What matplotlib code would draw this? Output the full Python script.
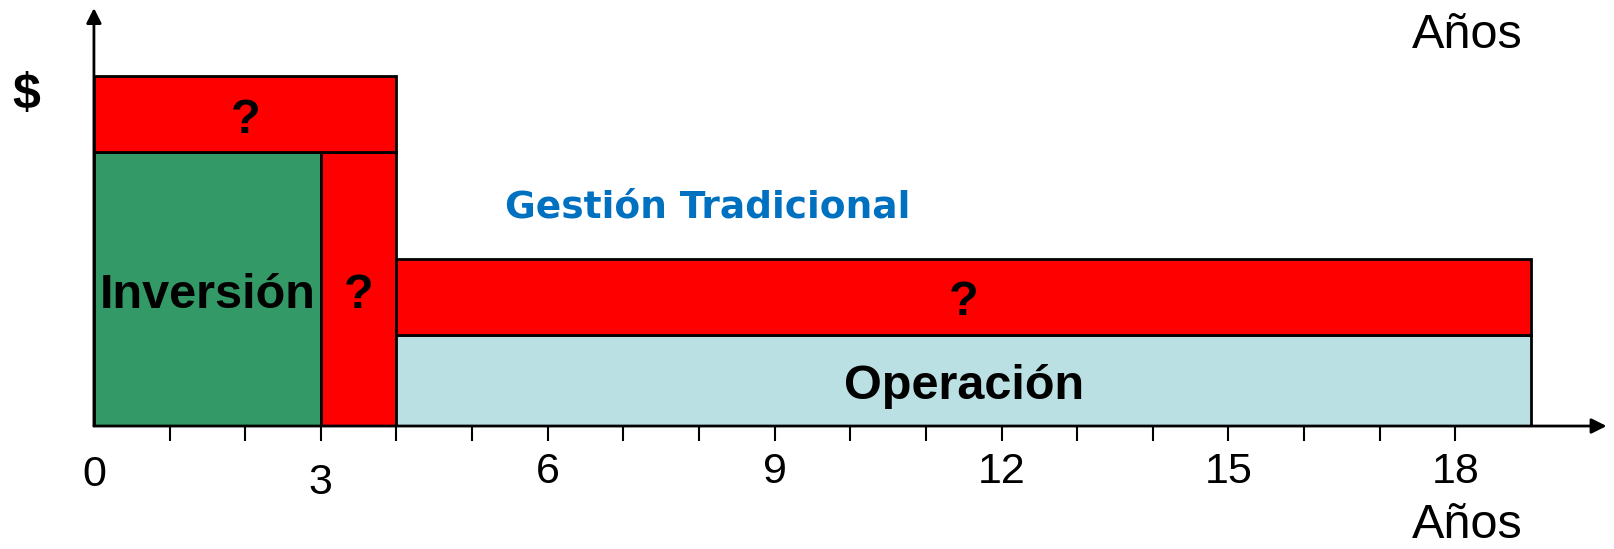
import matplotlib
matplotlib.use('Agg')
import matplotlib.pyplot as plt

# blocks of the cost chart (years on x, $ on y)
block_labels = ['Inversión', '?', '?', 'Operación', '?']
block_start = [0, 3, 0, 4, 4]
block_end = [3, 4, 4, 19, 19]
block_base = [0, 0, 3.6, 0, 1.2]
block_height = [3.6, 3.6, 1.0, 1.2, 1.0]
block_colors = ['#339966', '#ff0000', '#ff0000', '#bbe0e3', '#ff0000']

tick_years = [0, 3, 6, 9, 12, 15, 18]
minor_years = list(range(1, 19))

plt.rcParams['font.family'] = ['Liberation Sans', 'DejaVu Sans']

fig = plt.figure(figsize=(16.14, 5.49), dpi=100)
ax = fig.add_axes([0.0582, 0.224, 0.9372, 0.7614])
ax.set_xlim(0, 20)
ax.set_ylim(0, 5.5)

widths = [e - s for s, e in zip(block_start, block_end)]
ax.bar(block_start, block_height, width=widths, bottom=block_base, align='edge',
       color=block_colors, edgecolor='black', linewidth=2, zorder=2)

for lab, s, w, b, h in zip(block_labels, block_start, widths, block_base, block_height):
    ax.text(s + w / 2, b + h / 2 - 0.08, lab, ha='center', va='center',
            fontsize=35, fontweight='bold', zorder=3)

ax.text(8.12, 2.88, 'Gestión Tradicional', ha='center', va='center',
        fontsize=27, fontweight='bold', color='#0070c0', family='DejaVu Sans')

# axes with arrows
for s in ax.spines.values():
    s.set_visible(False)
ax.annotate('', xy=(1.0, 0), xytext=(0, 0), xycoords='axes fraction',
            arrowprops=dict(arrowstyle='-|>,head_length=0.9,head_width=0.45',
                            color='black', lw=2, shrinkA=0, shrinkB=0), zorder=4)
ax.annotate('', xy=(0, 1.0), xytext=(0, 0), xycoords='axes fraction',
            arrowprops=dict(arrowstyle='-|>,head_length=0.9,head_width=0.45',
                            color='black', lw=2, shrinkA=0, shrinkB=0), zorder=4)

ax.set_yticks([])
ax.set_xticks(tick_years)
ax.set_xticklabels([str(t) for t in tick_years], fontsize=31)
ax.set_xticks(minor_years, minor=True)
ax.tick_params(axis='x', which='both', length=11, width=1.5, direction='out')
ax.tick_params(axis='x', which='major', pad=8)
ax.xaxis.get_major_ticks()[0].tick1line.set_visible(False)
labs = ax.get_xticklabels()
labs[0].set_y(-0.007)
labs[1].set_y(-0.026)

fig.text(0.909, 0.935, 'Años', ha='center', va='center', fontsize=35)
fig.text(0.909, 0.042, 'Años', ha='center', va='center', fontsize=35)
fig.text(0.016, 0.827, '$', ha='center', va='center', fontsize=36, fontweight='bold')

fig.savefig('out.png', dpi=100)
